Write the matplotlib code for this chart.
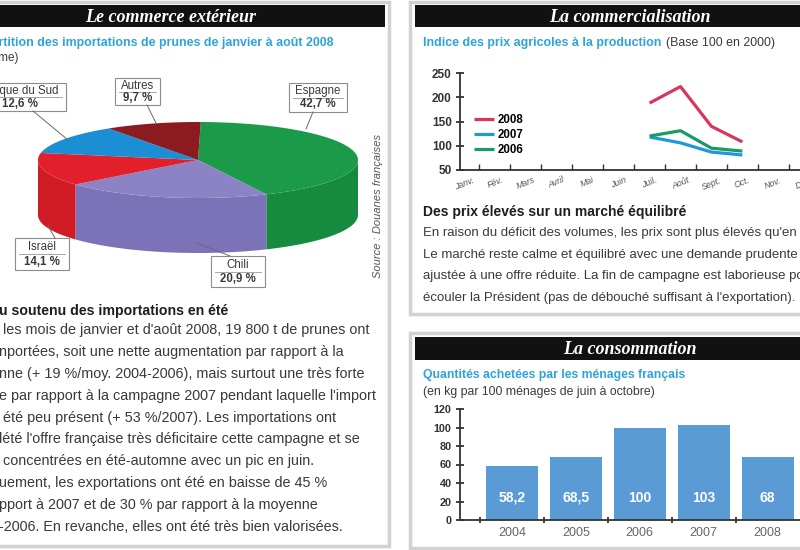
import numpy as np
import matplotlib
matplotlib.use('Agg')
import matplotlib.pyplot as plt
from matplotlib.patches import Rectangle, Polygon
from matplotlib import font_manager

# Données : répartition des importations (camembert)
pays = ['Espagne', 'Chili', 'Israël', 'Afrique du Sud', 'Autres']
parts = [42.7, 20.9, 14.1, 12.6, 9.7]
couleurs_dessus = ['#1b9b4a', '#8b83c3', '#e2202b', '#1c8fd4', '#8c1a21']
couleurs_cote = ['#168a3f', '#7c72b8', '#d01b25', '#1880c0', '#7a161c']

# Données : indice des prix agricoles
mois = ['Janv.', 'Fév.', 'Mars', 'Avril', 'Mai', 'Juin',
        'Juil.', 'Août', 'Sept.', 'Oct.', 'Nov.', 'Déc.']
mois_prix = ['Juil.', 'Août', 'Sept.', 'Oct.']
prix_2008 = [188, 222, 140, 108]
prix_2007 = [118, 106, 87, 81]
prix_2006 = [120, 131, 95, 89]

# Données : quantités achetées
annees = ['2004', '2005', '2006', '2007', '2008']
quantites = [58.2, 68.5, 100, 103, 68]

# Polices
noms = {f.name for f in font_manager.fontManager.ttflist}
COND = 'Liberation Sans Narrow' if 'Liberation Sans Narrow' in noms else 'Liberation Sans'
plt.rcParams['font.family'] = ['Liberation Sans', 'DejaVu Sans']
BLEU = '#2ea3db'
GRIS = '#3a3a3a'

W, H = 800, 550
fig = plt.figure(figsize=(8, 5.5), dpi=100)
fig.patch.set_facecolor('white')

# axe de fond en coordonnées pixels (y vers le bas)
ax0 = fig.add_axes([0, 0, 1, 1])
ax0.set_xlim(0, W)
ax0.set_ylim(H, 0)
ax0.axis('off')


def cadre(x0, y0, x1, y1):
    ax0.add_patch(Rectangle((x0, y0), x1 - x0, y1 - y0, fc='white', ec='#d2d2d2', lw=2.5, zorder=0))


def bandeau(x0, y0, x1, y1, xt, titre):
    ax0.add_patch(Rectangle((x0, y0), x1 - x0, y1 - y0, fc='#111111', ec='none', zorder=1))
    ax0.text(xt, (y0 + y1) / 2 + 1, titre, color='white', fontsize=13, fontweight='bold',
             style='italic', family='Liberation Serif', ha='center', va='center', zorder=2)


cadre(-5, 2, 389, 546)
cadre(410, 2, 806, 314)
cadre(410, 333, 806, 548)
bandeau(0, 5, 385, 27, 171, 'Le commerce extérieur')
bandeau(415, 5, 805, 27, 630, 'La commercialisation')
bandeau(415, 337, 805, 360, 630, 'La consommation')

# ---- Panneau gauche : camembert 3D ----
ax0.text(333, 43, 'Répartition des importations de prunes de janvier à août 2008',
         color=BLEU, fontsize=8.9, fontweight='bold', family=COND, ha='right', va='center')
ax0.text(18, 58, '(en volume)', color=GRIS, fontsize=8.5, family=COND, ha='right', va='center')

cx, cy, rx, ry, ep = 198, 160, 160, 38, 55
debut = 89.0
angles = [debut]
for p in parts:
    angles.append(angles[-1] - p * 3.6)


def arc(t0, t1, dy=0, n=80):
    t = np.radians(np.linspace(t0, t1, n))
    return np.column_stack([cx + rx * np.cos(t), cy - ry * np.sin(t) + dy])


# faces latérales (partie avant seulement)
for i in range(len(parts)):
    a = max(angles[i + 1], -180)
    b = min(angles[i], 0)
    if a < b:
        pts = np.vstack([arc(b, a), arc(a, b, dy=ep)])
        ax0.add_patch(Polygon(pts, closed=True, fc=couleurs_cote[i], ec='none', zorder=3))
# faces supérieures
for i in range(len(parts)):
    pts = np.vstack([[cx, cy], arc(angles[i], angles[i + 1])])
    ax0.add_patch(Polygon(pts, closed=True, fc=couleurs_dessus[i], ec='none', zorder=4))

# étiquettes encadrées
boites = {
    'Espagne': (289, 83, 58, 29),
    'Chili': (211, 256, 54, 31),
    'Israël': (15, 238, 54, 32),
    'Afrique du Sud': (-26, 83, 92, 28),
    'Autres': (115, 78, 45, 27),
}
reperes = {
    'Espagne': [(313, 112), (306, 129)],
    'Chili': [(230, 256), (197, 243)],
    'Israël': [(55, 238), (48, 226)],
    'Afrique du Sud': [(33, 111), (68, 140)],
    'Autres': [(147, 105), (156, 123)],
}
for nom, val in zip(pays, parts):
    x0, y0, w, h = boites[nom]
    ax0.add_patch(Rectangle((x0, y0), w, h, fc='white', ec='#8c8c8c', lw=0.8, zorder=5))
    ax0.plot([x0 + 4, x0 + w - 4], [y0 + h * 0.5] * 2, color='#9a9a9a', lw=0.6, zorder=6)
    ax0.text(x0 + w / 2, y0 + h * 0.28, nom, fontsize=8.3, color=GRIS, family=COND,
             ha='center', va='center', zorder=6)
    ax0.text(x0 + w / 2, y0 + h * 0.74, f'{val:.1f}'.replace('.', ',') + ' %', fontsize=8.3,
             fontweight='bold', color=GRIS, family=COND, ha='center', va='center', zorder=6)
    (xa, ya), (xb, yb) = reperes[nom]
    ax0.plot([xa, xb], [ya, yb], color='#6a6a6a', lw=0.7, zorder=5)

ax0.text(378, 206, 'Source : Douanes françaises', rotation=90, fontsize=8, style='italic',
         color='#555555', family=COND, ha='center', va='center')

# texte gauche
ax0.text(-1, 311, 'u soutenu des importations en été', fontsize=10.2, fontweight='bold',
         color='#1e1e1e', family=COND, va='center')
lignes_g = [
    ' les mois de janvier et d\'août 2008, 19 800 t de prunes ont',
    'nportées, soit une nette augmentation par rapport à la',
    'nne (+ 19 %/moy. 2004-2006), mais surtout une très forte',
    'e par rapport à la campagne 2007 pendant laquelle l\'import',
    ' été peu présent (+ 53 %/2007). Les importations ont',
    'lété l\'offre française très déficitaire cette campagne et se',
    ' concentrées en été-automne avec un pic en juin.',
    'uement, les exportations ont été en baisse de 45 %',
    'pport à 2007 et de 30 % par rapport à la moyenne',
    '-2006. En revanche, elles ont été très bien valorisées.',
]
for k, l in enumerate(lignes_g):
    ax0.text(-1, 330 + k * 21.9, l, fontsize=10.4, color=GRIS, family=COND, va='center')

# ---- Panneau haut droit : courbes de prix ----
ax0.text(423, 43, 'Indice des prix agricoles à la production', color=BLEU, fontsize=8.9,
         fontweight='bold', family=COND, va='center')
ax0.text(666, 43, '(Base 100 en 2000)', color=GRIS, fontsize=8.9, family=COND, va='center')

axl = fig.add_axes([460 / W, 1 - 170 / H, 372 / W, 97 / H])
axl.patch.set_alpha(0)
xm = [mois.index(m) for m in mois_prix]
axl.plot(xm, prix_2008, color='#d8365c', lw=2.3, label='2008', solid_capstyle='butt')
axl.plot(xm, prix_2007, color='#1f98d5', lw=2.3, label='2007', solid_capstyle='butt')
axl.plot(xm, prix_2006, color='#1c9a64', lw=2.3, label='2006', solid_capstyle='butt')
axl.set_xlim(-0.13, 11.9)
axl.set_ylim(50, 250)
axl.set_yticks([50, 100, 150, 200, 250])
for s in ['top', 'right']:
    axl.spines[s].set_visible(False)
for s in ['left', 'bottom']:
    axl.spines[s].set_color('#333333')
    axl.spines[s].set_linewidth(1.3)
axl.tick_params(axis='y', direction='inout', length=6, width=1.3, labelsize=8.5, colors='#333333', pad=3)
for t in axl.get_yticklabels():
    t.set_fontweight('bold')
axl.set_xticks(np.arange(12) + 0.5)
axl.set_xticklabels([])
axl.tick_params(axis='x', which='major', direction='in', length=4, width=1, color='#333333')
axl.set_xticks(np.arange(12), minor=True)
axl.set_xticklabels(mois, minor=True, rotation=22, fontsize=6.3, color='#555555', style='italic',
                    family=COND)
axl.tick_params(axis='x', which='minor', length=0, pad=4)
axl.legend(loc='upper left', bbox_to_anchor=(0.025, 0.62), frameon=False, handlelength=1.7,
           handletextpad=0.4, labelspacing=0.25, borderaxespad=0,
           prop={'size': 8.3, 'weight': 'bold', 'family': COND})

ax0.text(423, 212, 'Des prix élevés sur un marché équilibré', fontsize=10, fontweight='bold',
         color='#1e1e1e', family=COND, va='center')
lignes_d = [
    'En raison du déficit des volumes, les prix sont plus élevés qu\'en 2007.',
    'Le marché reste calme et équilibré avec une demande prudente',
    'ajustée à une offre réduite. La fin de campagne est laborieuse pour',
    'écouler la Président (pas de débouché suffisant à l\'exportation).',
]
for k, l in enumerate(lignes_d):
    ax0.text(423, 233 + k * 21.6, l, fontsize=9.5, color=GRIS, family=COND, va='center')

# ---- Panneau bas droit : barres ----
ax0.text(423, 375, 'Quantités achetées par les ménages français', color=BLEU, fontsize=8.8,
         fontweight='bold', family=COND, va='center')
ax0.text(423, 392, '(en kg par 100 ménages de juin à octobre)', color=GRIS, fontsize=8.8,
         family=COND, va='center')

axb = fig.add_axes([460 / W, 1 - 520 / H, 380 / W, 111 / H])
axb.patch.set_alpha(0)
xb = np.arange(len(annees))
axb.bar(xb, quantites, width=0.81, color='#5a9ad5')
for x, v in zip(xb, quantites):
    lab = f'{v:.1f}'.replace('.', ',') if v % 1 else f'{v:.0f}'
    axb.text(x, 24, lab, color='white', fontsize=10, fontweight='bold', family=COND,
             ha='center', va='center')
axb.set_xlim(-0.81, 5.13)
axb.set_ylim(0, 120)
axb.set_yticks(range(0, 121, 20))
for s in ['top', 'right']:
    axb.spines[s].set_visible(False)
for s in ['left', 'bottom']:
    axb.spines[s].set_color('#333333')
    axb.spines[s].set_linewidth(1.3)
axb.tick_params(axis='y', direction='inout', length=6, width=1.3, labelsize=7.8, colors='#333333', pad=3)
for t in axb.get_yticklabels():
    t.set_fontweight('bold')
axb.set_xticks(xb - 0.5)
axb.set_xticklabels([])
axb.tick_params(axis='x', which='major', direction='inout', length=4, width=1.3, color='#333333')
axb.set_xticks(xb, minor=True)
axb.set_xticklabels(annees, minor=True, fontsize=9, color='#666666', family=COND)
axb.tick_params(axis='x', which='minor', length=0, pad=5)

fig.savefig('out.png', dpi=100)
